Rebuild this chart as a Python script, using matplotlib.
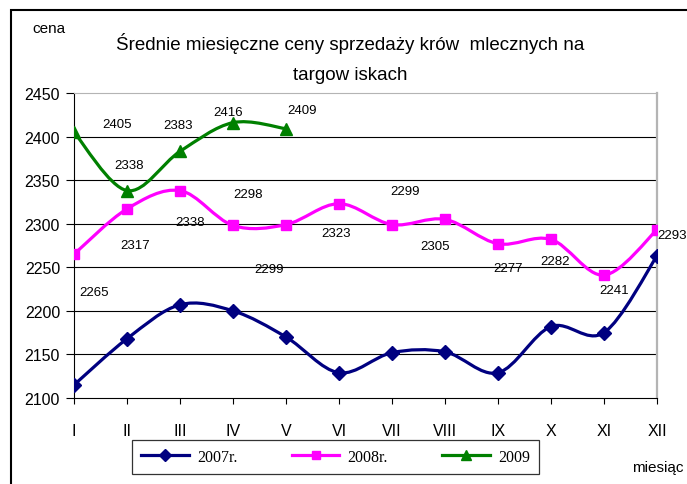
import numpy as np
import matplotlib
matplotlib.use('Agg')
import matplotlib.pyplot as plt
from matplotlib.path import Path
from matplotlib.patches import PathPatch, Rectangle
from matplotlib.lines import Line2D

months = ['I', 'II', 'III', 'IV', 'V', 'VI', 'VII', 'VIII', 'IX', 'X', 'XI', 'XII']
y2007 = [2115, 2168, 2207, 2200, 2170, 2129, 2152, 2153, 2129, 2182, 2175, 2263]
y2008 = [2265, 2317, 2338, 2298, 2299, 2323, 2299, 2305, 2277, 2282, 2241, 2293]
y2009 = [2405, 2338, 2383, 2416, 2409]

# label offsets in pixels (dx, dy down) relative to the point, as in the original
off2008 = [(20, 38), (8, 36), (10, 31), (15, -31), (-17, 44), (-3, 29),
           (13, -34), (-10, 27), (10, 24), (4, 22), (10, 15), (15, 5)]
off2009 = [(43, -8), (2, -26), (-2, -26), (-5, -11), (16, -19)]

plt.rcParams['font.family'] = ['Liberation Sans', 'DejaVu Sans']

fig = plt.figure(figsize=(6.87, 4.85), dpi=100)
ax = fig.add_axes([74/687, 1 - 399/485, (657-74)/687, (399-94)/485])


def smooth(ax, xs, ys, color, lw):
    # excel-like smoothed line (catmull-rom as bezier segments)
    pts = np.column_stack([xs, ys]).astype(float)
    p = np.vstack([pts[0], pts, pts[-1]])
    verts = [pts[0]]
    codes = [Path.MOVETO]
    for i in range(1, len(p) - 2):
        c1 = p[i] + (p[i+1] - p[i-1]) / 6.0
        c2 = p[i+1] - (p[i+2] - p[i]) / 6.0
        verts += [c1, c2, p[i+1]]
        codes += [Path.CURVE4] * 3
    ax.add_patch(PathPatch(Path(verts, codes), fill=False, edgecolor=color,
                           linewidth=lw, capstyle='round', joinstyle='round', zorder=3))


series = [
    (y2007, '#000080', 'D', 7, '2007r.'),
    (y2008, '#FF00FF', 's', 7, '2008r.'),
    (y2009, '#008000', '^', 8.5, '2009'),
]
handles = []
for vals, col, mk, ms, lab in series:
    x = np.arange(len(vals))
    smooth(ax, x, vals, col, 2.3)
    ax.plot(x, vals, linestyle='none', marker=mk, markersize=ms, color=col, zorder=4)
    handles.append(Line2D([], [], color=col, marker=mk, markersize=ms - 1, linewidth=2.3, label=lab))

for vals, offs in [(y2008, off2008), (y2009, off2009)]:
    for i, v in enumerate(vals):
        dx, dy = offs[i]
        ax.annotate(str(v), (i, v), xytext=(dx, -dy), textcoords='offset pixels',
                    ha='center', va='center', fontsize=9.5, zorder=5)

ax.set_xlim(0, 11)
ax.set_ylim(2100, 2450)
ax.set_yticks(np.arange(2100, 2451, 50))
ax.set_xticks(range(12))
ax.set_xticklabels(months)
ax.tick_params(axis='y', direction='out', length=6, width=0.8, pad=4, labelsize=11.5)
ax.tick_params(axis='x', direction='out', length=4, width=0.8, pad=14, labelsize=11.5)
ax.yaxis.grid(True, color='black', linewidth=0.8)
ax.set_axisbelow(True)
gl = ax.yaxis.get_gridlines()
gl[0].set_visible(False)
gl[-1].set_visible(False)
ax.spines['top'].set_color('#b4b4b4')
ax.spines['right'].set_color('#b4b4b4')
ax.spines['right'].set_linewidth(1.6)
ax.spines['left'].set_linewidth(0.8)
ax.spines['bottom'].set_linewidth(0.8)

fig.text(350/687, 1 - 43/485, 'Średnie miesięczne ceny sprzedaży krów  mlecznych na',
         ha='center', va='center', fontsize=13.5)
fig.text(350/687, 1 - 75/485, 'targow iskach', ha='center', va='center', fontsize=13.5)
fig.text(49/687, 1 - 29/485, 'cena', ha='center', va='center', fontsize=11)
fig.text(658/687, 1 - 468/485, 'miesiąc', ha='center', va='center', fontsize=11)

leg = fig.legend(handles=handles, loc='center', bbox_to_anchor=(335.5/687, 1 - 458/485),
                 ncol=3, frameon=True, fancybox=False, edgecolor='black',
                 prop={'family': 'Liberation Serif', 'size': 11.5},
                 handlelength=3.0, handletextpad=0.5, columnspacing=3.4,
                 borderpad=0.55, borderaxespad=0)
leg.get_frame().set_linewidth(0.9)

fig.patches.append(Rectangle((11/687, -0.1), 1.2, 1 - 11/485 + 0.1, transform=fig.transFigure,
                             fill=False, edgecolor='black', linewidth=1.5))

fig.savefig('out.png', dpi=100)
